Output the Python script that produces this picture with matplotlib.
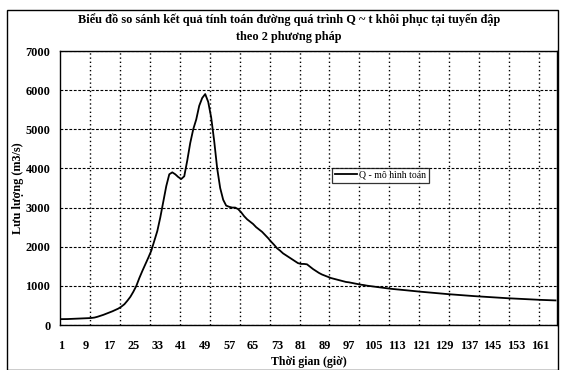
import matplotlib.pyplot as plt
from matplotlib.patches import Rectangle
import numpy as np

plt.rcParams['font.family'] = ['Liberation Serif', 'DejaVu Serif']

# discharge (m3/s) per hour
q_model = [
    150, 150, 152, 155, 158, 160, 163, 166, 170, 175,
    180, 190, 210, 235, 260, 290, 320, 350, 385, 420,
    470, 530, 620, 720, 850, 1000, 1200, 1380, 1550, 1720,
    1900, 2150, 2400, 2750, 3150, 3550, 3850, 3900, 3850, 3780,
    3730, 3800, 4200, 4650, 5000, 5250, 5600, 5800, 5900, 5700,
    5300, 4700, 4000, 3500, 3200, 3050, 3020, 3000, 3000, 2960,
    2880, 2780, 2700, 2640, 2580, 2500, 2440, 2380, 2300, 2220,
    2130, 2050, 1960, 1900, 1830, 1780, 1730, 1680, 1630, 1580,
    1560, 1560, 1550, 1490, 1430, 1380, 1330, 1290, 1260, 1230,
    1200, 1180, 1160, 1140, 1120, 1100, 1090, 1075, 1060, 1045,
    1030, 1020, 1005, 995, 985, 975, 965, 955, 945, 935,
    925, 918, 910, 902, 895, 888, 880, 872, 865, 858,
    850, 843, 836, 829, 822, 815, 808, 801, 795, 789,
    783, 777, 771, 765, 759, 753, 747, 742, 737, 732,
    727, 722, 717, 712, 707, 702, 697, 692, 688, 684,
    680, 676, 672, 668, 664, 660, 656, 652, 648, 645,
    642, 639, 636, 633, 630, 628,
]
hours = list(range(1, len(q_model) + 1))
hour_labels = list(range(1, 162, 8))
y_ticks = [0, 1000, 2000, 3000, 4000, 5000, 6000, 7000]

title = ("Biểu đồ so sánh kết quả tính toán đường quá trình Q ~ t khôi phục tại tuyến đập\n"
         "theo 2 phương pháp")

fig = plt.figure(figsize=(5.61, 3.70), dpi=100)
ax = fig.add_axes([60/561, 45/370, 497/561, 274/370])

ax.plot(hours, q_model, color='black', lw=1.3, label='Q - mô hình toán')

ax.set_xlim(0.5, len(hours) + 0.5)
ax.set_ylim(0, 7000)
ax.set_xticks(hour_labels)
ax.set_xticklabels([str(h) for h in hour_labels])
ax.set_yticks(y_ticks)
ax.set_xticks(np.arange(10.5, len(hours), 10), minor=True)
ax.tick_params(which='both', length=0)
ax.tick_params(axis='y', labelsize=8.8, pad=7)
ax.tick_params(axis='x', labelsize=8.8, pad=11)
for lab in ax.get_xticklabels() + ax.get_yticklabels():
    lab.set_fontweight('bold')

ax.grid(axis='y', which='major', color='black', linestyle=(0, (2.5, 1.5)), lw=0.8)
ax.grid(axis='x', which='minor', color='black', linestyle=(0, (1, 2)), lw=1.0)
for sp in ax.spines.values():
    sp.set_linewidth(1.0)

ax.set_xlabel('Thời gian (giờ)', fontsize=8.5, fontweight='bold', labelpad=3)
ax.set_ylabel('Lưu lượng (m3/s)', fontsize=8.8, fontweight='bold', labelpad=1)

fig.text(0.515, 0.965, title, ha='center', va='top', fontsize=8.8,
         fontweight='bold', linespacing=1.55)

leg = ax.legend(loc='center', bbox_to_anchor=(0.645, 0.547), fontsize=7,
                frameon=True, fancybox=False, handlelength=2.2,
                borderpad=0.3, handletextpad=0.2)
leg.get_frame().set_edgecolor('black')
leg.get_frame().set_linewidth(0.9)

# outer chart-area frame
fig.patches.append(Rectangle((7/561, 0.0), 551/561, 360/370, transform=fig.transFigure,
                             fill=False, edgecolor='black', lw=1.0))

fig.savefig('out.png', dpi=100)
